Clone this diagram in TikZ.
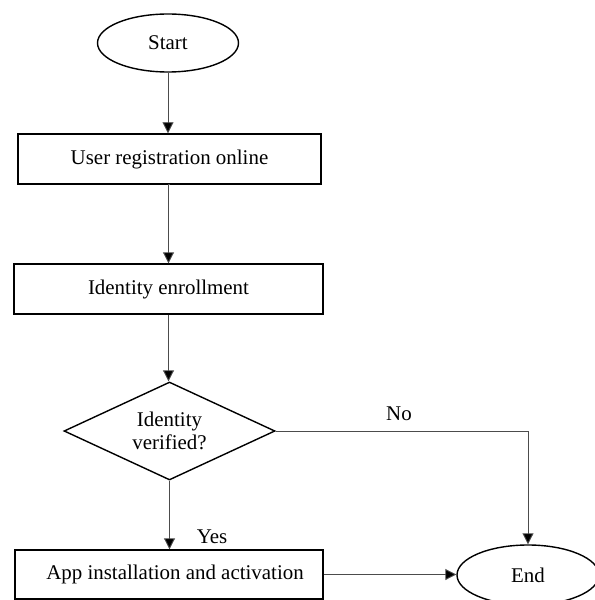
\documentclass[tikz,border=0pt]{standalone}
\usepackage{fontspec}
\setmainfont{Liberation Serif}
\usetikzlibrary{shapes.geometric,arrows.meta}
\begin{document}
\begin{tikzpicture}[x=1bp,y=-1bp,
  every node/.style={font=\fontsize{21}{23}\selectfont},
  terminal/.style={draw=black,line width=1.4bp,ellipse,inner sep=0pt},
  procbox/.style={draw=black,line width=1.4bp,rectangle,inner sep=0pt},
  decision/.style={draw=black,line width=1.4bp,diamond,inner sep=0pt,align=center,shape aspect=2.15},
  conn/.style={draw=black!70,line width=0.9bp,-{Triangle[length=11bp,width=11bp,fill=black]}},
  lbl/.style={inner sep=0pt}]
\useasboundingbox (0,0) rectangle (595,600);
\node[terminal,minimum width=141bp,minimum height=58bp] (start) at (168,43) {Start};
\node[procbox,minimum width=303bp,minimum height=50bp] (reg) at (169.5,159) {User registration online};
\node[procbox,minimum width=309bp,minimum height=50bp] (enr) at (168.5,289) {Identity enrollment};
\node[decision,minimum width=211bp,minimum height=98bp] (dec) at (169.5,431) {Identity\\verified?};
\node[procbox,minimum width=308bp,minimum height=49bp] (app) at (169,574.5) {\hspace*{12bp}App installation and activation};
\node[terminal,minimum width=142bp,minimum height=60bp] (end) at (528,575) {End};
\node[lbl] (nolbl) at (399,414) {No};
\node[lbl] (yeslbl) at (212,537) {Yes};
\draw[conn] (start.south) -- (start.south |- reg.north);
\draw[conn] (reg.south) -- (reg.south -| enr.north) -- (enr.north);
\draw[conn] (enr.south) -- (enr.south |- dec.north);
\draw[conn] (dec.east) -| (end.north);
\draw[conn] (dec.south) -- (dec.south |- app.north);
\draw[conn] (app.east) -- (app.east -| end.west);
\end{tikzpicture}
\end{document}
